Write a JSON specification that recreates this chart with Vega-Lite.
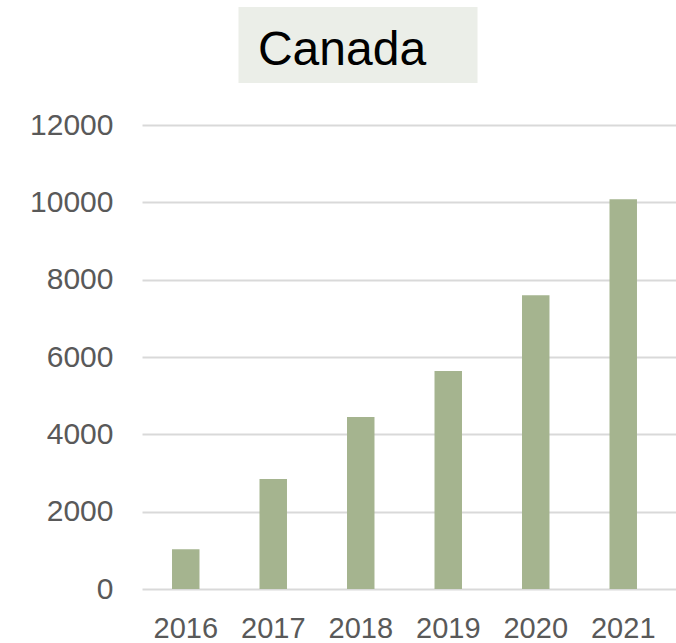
{
  "$schema": "https://vega.github.io/schema/vega-lite/v6.json",
  "padding": {"left": 29, "top": 7, "right": 0, "bottom": 0},
  "background": "white",
  "center": true,
  "spacing": 27,
  "config": {"font": "Liberation Sans"},
  "vconcat": [
    {
      "width": 239,
      "height": 76,
      "view": {"stroke": null},
      "data": {"values": [{"title": "Canada"}]},
      "layer": [
        {
          "mark": {"type": "rect", "color": "#ebeee8", "xOffset": -56, "x2Offset": -56},
          "encoding": {"x": {"value": 0}, "x2": {"value": "width"}, "y": {"value": 0}, "y2": {"value": "height"}}
        },
        {
          "mark": {"type": "text", "fontSize": 48, "font": "Liberation Sans", "color": "#000000", "align": "center", "baseline": "alphabetic", "dx": -72, "dy": 20},
          "encoding": {"text": {"field": "title"}}
        }
      ]
    },
    {
      "width": 544,
      "height": 464,
      "view": {"stroke": null},
      "data": {"values": [
        {"year": "2016", "value": 1030},
        {"year": "2017", "value": 2845},
        {"year": "2018", "value": 4450},
        {"year": "2019", "value": 5640},
        {"year": "2020", "value": 7600},
        {"year": "2021", "value": 10080}
      ]},
      "mark": {"type": "bar", "color": "#a5b48f", "width": {"band": 0.314}},
      "encoding": {
        "x": {"field": "year", "type": "ordinal", "title": null,
          "scale": {"paddingInner": 0, "paddingOuter": 0.1086, "align": 0},
          "axis": {"labelAngle": 0, "labelFontSize": 29, "labelColor": "#595959", "labelPadding": 25, "ticks": false, "domain": false, "grid": false}},
        "y": {"field": "value", "type": "quantitative", "title": null,
          "scale": {"domain": [0, 12000], "nice": false},
          "axis": {"values": [0, 2000, 4000, 6000, 8000, 10000, 12000], "format": "d", "labelFontSize": 30, "labelColor": "#595959", "labelPadding": 29, "ticks": false, "domain": false, "gridColor": "#d9d9d9", "gridWidth": 2}}
      }
    }
  ]
}
